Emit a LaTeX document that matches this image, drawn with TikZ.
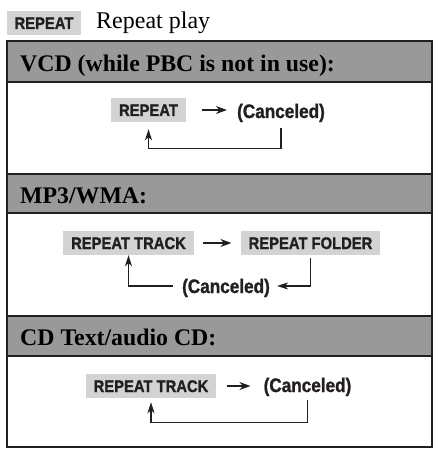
\documentclass[tikz,border=0pt]{standalone}
\usepackage{fontspec}
\setmainfont{Liberation Serif}
\newfontfamily\cond[FakeStretch=0.88,FakeBold=1.2]{Liberation Sans}
\usetikzlibrary{arrows.meta}
\definecolor{headgray}{HTML}{999999}
\definecolor{keygray}{HTML}{D1D3D4}
\definecolor{keytext}{HTML}{231F20}
\tikzset{
  keybox/.style={fill=keygray, text=keytext, font=\cond\bfseries\fontsize{16.8}{16.8}\selectfont,
    inner xsep=8pt, inner ysep=6pt, text height=12pt, text depth=0pt},
  canc/.style={text=keytext, font=\cond\bfseries\fontsize{19.5}{19.5}\selectfont, inner sep=0pt, anchor=base},
  headtext/.style={font=\bfseries\fontsize{23.8}{24}\selectfont, anchor=base west, inner sep=0pt},
  fwd/.style={line width=1.3pt, draw=keytext, -{Stealth[length=11pt,width=8pt,inset=3.5pt]}},
  backloop/.style={line width=1.4pt, draw=keytext, -{Stealth[length=11pt,width=7pt,inset=3pt]}},
  rule/.style={line width=1.5pt, draw=keytext}
}
\begin{document}
\begin{tikzpicture}[x=1pt,y=-1pt]
\useasboundingbox (0,0) rectangle (438,449);
% top label
\node[keybox] (lab) at (44,23) {REPEAT};
\node[anchor=base west, font=\fontsize{24}{24}\selectfont, inner sep=0pt] (lt) at (96,29) {Repeat play};
% header bands
\fill[headgray] (7,41) rectangle (432,82);
\fill[headgray] (7,174) rectangle (432,213);
\fill[headgray] (7,316) rectangle (432,356);
\draw[rule] (7,82) -- (432,82);
\draw[rule] (7,174) -- (432,174);
\draw[rule] (7,213) -- (432,213);
\draw[rule] (7,316) -- (432,316);
\draw[rule] (7,356) -- (432,356);
\draw[line width=2.5pt, draw=keytext] (7,41) rectangle (432,447);
% header texts
\node[headtext] (h1) at (20,72) {VCD (while PBC is not in use):};
\node[headtext] (h2) at (20,203) {MP3/WMA:};
\node[headtext] (h3) at (20,345) {CD Text/audio CD:};
% section 1
\node[keybox] (r1) at (148.5,110) {REPEAT};
\node[canc] (c1) at (281,118) {(Canceled)};
\draw[fwd] ([xshift=16pt]r1.east) -- ([xshift=-10pt]c1.west |- r1.east);
\draw[backloop] ([yshift=-6pt]c1.south) -- ++(0,20) -| ([yshift=-7pt]r1.south);
% section 2
\node[keybox] (rt2) at (128.5,243) {REPEAT TRACK};
\node[keybox] (rf2) at (310.5,243) {REPEAT FOLDER};
\node[canc] (c2) at (226,293) {(Canceled)};
\draw[fwd] ([xshift=9pt]rt2.east) -- ([xshift=-9pt]rf2.west);
\draw[backloop] ([yshift=-3pt]rf2.south) |- ([xshift=7pt,yshift=2pt]c2.east);
\draw[backloop] ([xshift=-9pt,yshift=2pt]c2.west) -| (rt2.south);
% section 3
\node[keybox] (rt3) at (151,386) {REPEAT TRACK};
\node[canc] (c3) at (307.5,392) {(Canceled)};
\draw[fwd] ([xshift=10pt]rt3.east) -- ([xshift=-13pt]c3.west |- rt3.east);
\draw[backloop] ([yshift=-4pt]c3.south) -- ++(0,22) -| ([yshift=-4pt]rt3.south);
\end{tikzpicture}
\end{document}
